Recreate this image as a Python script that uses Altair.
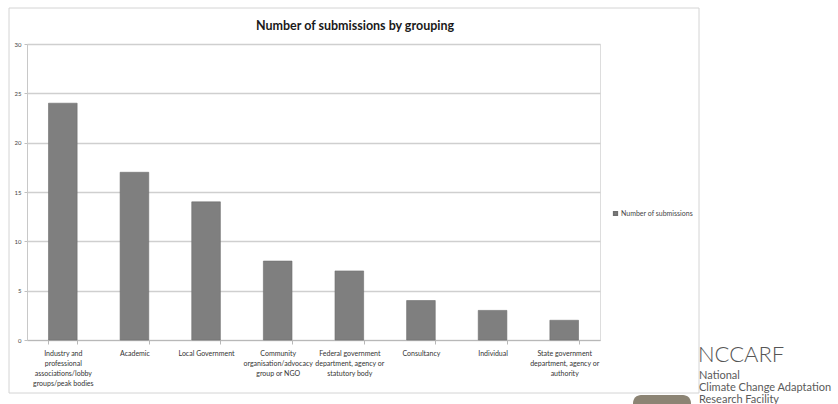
import altair as alt
import pandas as pd

categories = [
    "Industry and|professional|associations/lobby|groups/peak bodies",
    "Academic",
    "Local Government",
    "Community|organisation/advocacy|group or NGO",
    "Federal government|department, agency or|statutory body",
    "Consultancy",
    "Individual",
    "State government|department, agency or|authority",
]
values = [24, 17, 14, 8, 7, 4, 3, 2]
series_name = "Number of submissions"
chart_title = "Number of submissions by grouping"
logo_lines = ["National", "Climate Change Adaptation", "Research Facility"]

df = pd.DataFrame({"group": categories, "count": values, "series": series_name})

FONT = "Lato"

border = alt.Chart(pd.DataFrame({"a": [0]})).mark_rect(
    fill="white", fillOpacity=0, stroke="#d4d4d4", strokeWidth=1
).encode(x=alt.value(-18), x2=alt.value(672), y=alt.value(-36), y2=alt.value(349))

bars = alt.Chart(df).mark_bar(color="#7f7f7f", stroke="#6f6f6f", strokeWidth=0.6).encode(
    x=alt.X("group:N", sort=categories, title=None,
            scale=alt.Scale(paddingInner=0.6, paddingOuter=0.3),
            axis=alt.Axis(labelExpr="split(datum.label, '|')", labelAngle=0,
                          labelFontSize=7, labelColor="#333333", labelFont=FONT,
                          labelLineHeight=10.3, labelPadding=5, labelLimit=200,
                          tickBand="extent", tickSize=4, tickColor="#b8b8b8",
                          domainColor="#b8b8b8", domainWidth=1, grid=False)),
    y=alt.Y("count:Q", title=None,
            scale=alt.Scale(domain=[0, 30], nice=False),
            axis=alt.Axis(values=[0, 5, 10, 15, 20, 25, 30], labelFontSize=6,
                          labelColor="#444444", labelFont=FONT, labelPadding=3,
                          tickSize=3, tickColor="#c0c0c0", domainColor="#c8c8c8",
                          grid=True, gridColor="#cfcfcf", gridWidth=1.6)),
    color=alt.Color("series:N", scale=alt.Scale(range=["#7f7f7f"]),
                    legend=alt.Legend(title=None, orient="none", legendX=585, legendY=166,
                                      symbolType="square", symbolSize=14,
                                      labelFontSize=7, labelFont=FONT, labelColor="#444444",
                                      labelOffset=2)),
)

title = alt.Chart(pd.DataFrame({"t": [chart_title]})).mark_text(
    font=FONT, fontSize=12.5, fontWeight="bold", color="#1a1a1a", align="center"
).encode(text="t:N", x=alt.value(328), y=alt.value(-18))

logo_main = alt.Chart(pd.DataFrame({"t": ["NCCARF"]})).mark_text(
    font=FONT, fontSize=22, fontWeight=300, color="#555555", align="left", baseline="alphabetic"
).encode(text="t:N", x=alt.value(671), y=alt.value(318))

logo_sub = alt.Chart(pd.DataFrame({"t": logo_lines, "yy": [335, 347, 359]})).mark_text(
    font=FONT, fontSize=11, color="#5a5a5a", align="left", baseline="alphabetic"
).encode(text="t:N", x=alt.value(672), y=alt.Y("yy:Q", scale=None))

emblem = alt.Chart(pd.DataFrame({"a": [0]})).mark_rect(
    fill="#8c8474", cornerRadius=8
).encode(x=alt.value(606), x2=alt.value(664), y=alt.value(351), y2=alt.value(372))

chart = alt.layer(border, emblem, bars, title, logo_main, logo_sub).properties(
    width=573, height=296,
    autosize=alt.AutoSizeParams(type="none"),
    padding={"left": 27, "top": 44, "right": 238, "bottom": 64},
).configure_view(stroke=None).configure(background="white")

chart.save("out.html", embed_options={"renderer": "svg", "actions": False})
